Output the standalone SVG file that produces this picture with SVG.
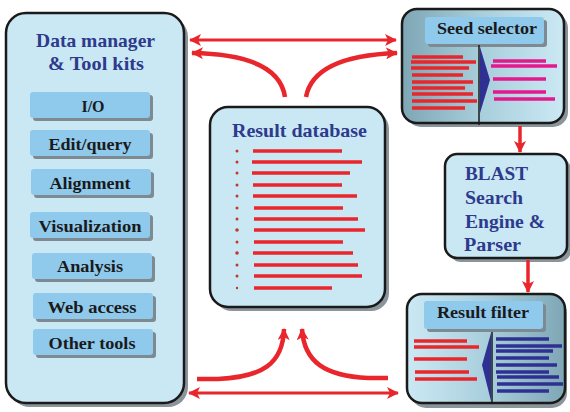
<svg xmlns="http://www.w3.org/2000/svg" width="570" height="412" viewBox="0 0 570 412">
<defs>
<marker id="ah" viewBox="0 0 12 12" refX="11" refY="6" markerWidth="12" markerHeight="12" markerUnits="userSpaceOnUse" orient="auto-start-reverse">
<path d="M0,0 L12,6 L0,12 L3,6 Z" fill="#e8262b"/>
</marker>
<linearGradient id="gSeed" x1="0" y1="0" x2="1" y2="0">
<stop offset="0" stop-color="#7ea6b4"/><stop offset="0.5" stop-color="#a9cfdc"/><stop offset="1" stop-color="#cbe9f4"/>
</linearGradient>
<linearGradient id="gFilt" x1="0" y1="0" x2="1" y2="0">
<stop offset="0" stop-color="#cbe9f4"/><stop offset="0.5" stop-color="#a9cfdc"/><stop offset="1" stop-color="#7ea6b4"/>
</linearGradient>
<style>
.panel{fill:#c9e8f4;stroke:#1a1a1a;stroke-width:2.5}
.shadow{fill:#8a949b}
.btn{fill:#8fc9ec}
.btnsh{fill:#7d8a92}
.title{font-family:"Liberation Serif",serif;font-weight:bold;font-size:19px;fill:#2e3a8c}
.lbl{font-family:"Liberation Serif",serif;font-weight:bold;font-size:16px;fill:#1a1a1a;text-anchor:middle}
.blast{font-family:"Liberation Serif",serif;font-weight:bold;font-size:18px;fill:#2e3a8c}
.red{stroke:#e8262b;stroke-width:3.5}
.mag{stroke:#e5188e;stroke-width:3.5}
.blu{stroke:#2e3192;stroke-width:3.5}
.dot{fill:#c0392b}
.conn{fill:none;stroke:#e8262b}
</style>
</defs>

<g id="data-manager">
<rect class="shadow" x="10" y="17" width="178" height="390" rx="20"/>
<rect class="panel" x="6" y="13" width="178" height="390" rx="20"/>
<text class="title" x="36" y="47" textLength="119" lengthAdjust="spacingAndGlyphs">Data manager</text>
<text class="title" x="48" y="70" textLength="96" lengthAdjust="spacingAndGlyphs">&amp; Tool kits</text>
<g id="btn-io"><rect class="btnsh" x="33" y="95" width="120" height="26" rx="3"/><rect class="btn" x="30" y="92" width="120" height="26" rx="3"/><text class="lbl" x="93" y="112">I/O</text></g>
<g id="btn-edit"><rect class="btnsh" x="33" y="133" width="120" height="26" rx="3"/><rect class="btn" x="30" y="130" width="120" height="26" rx="3"/><text class="lbl" x="90" y="150" textLength="83" lengthAdjust="spacingAndGlyphs">Edit/query</text></g>
<g id="btn-align"><rect class="btnsh" x="34" y="172" width="120" height="26" rx="3"/><rect class="btn" x="31" y="169" width="120" height="26" rx="3"/><text class="lbl" x="90" y="189" textLength="81" lengthAdjust="spacingAndGlyphs">Alignment</text></g>
<g id="btn-vis"><rect class="btnsh" x="33" y="215" width="120" height="26" rx="3"/><rect class="btn" x="30" y="212" width="120" height="26" rx="3"/><text class="lbl" x="90" y="232" textLength="103" lengthAdjust="spacingAndGlyphs">Visualization</text></g>
<g id="btn-analysis"><rect class="btnsh" x="35" y="256" width="120" height="26" rx="3"/><rect class="btn" x="32" y="253" width="120" height="26" rx="3"/><text class="lbl" x="90" y="272" textLength="66" lengthAdjust="spacingAndGlyphs">Analysis</text></g>
<g id="btn-web"><rect class="btnsh" x="36" y="296" width="120" height="26" rx="3"/><rect class="btn" x="33" y="293" width="120" height="26" rx="3"/><text class="lbl" x="92" y="313" textLength="89" lengthAdjust="spacingAndGlyphs">Web access</text></g>
<g id="btn-other"><rect class="btnsh" x="36" y="332" width="120" height="26" rx="3"/><rect class="btn" x="33" y="329" width="120" height="26" rx="3"/><text class="lbl" x="92" y="349" textLength="87" lengthAdjust="spacingAndGlyphs">Other tools</text></g>
</g>

<g id="result-database">
<rect class="shadow" x="214" y="111" width="175" height="200" rx="18"/>
<rect class="panel" x="210" y="107" width="175" height="200" rx="18"/>
<text class="title" x="232" y="137" textLength="135" lengthAdjust="spacingAndGlyphs">Result database</text>
<g class="red">
<line x1="253" y1="151" x2="342" y2="151"/>
<line x1="252" y1="162" x2="362" y2="162"/>
<line x1="252" y1="173" x2="350" y2="173"/>
<line x1="253" y1="185" x2="342" y2="185"/>
<line x1="253" y1="196" x2="357" y2="196"/>
<line x1="254" y1="208" x2="343" y2="208"/>
<line x1="254" y1="219" x2="358" y2="219"/>
<line x1="254" y1="230" x2="365" y2="230"/>
<line x1="254" y1="242" x2="343" y2="242"/>
<line x1="253" y1="253" x2="353" y2="253"/>
<line x1="254" y1="265" x2="358" y2="265"/>
<line x1="254" y1="276" x2="362" y2="276"/>
<line x1="254" y1="288" x2="332" y2="288"/>
</g>
<g class="dot">
<circle cx="237" cy="151" r="1.5"/><circle cx="237" cy="162" r="1.5"/><circle cx="237" cy="173" r="1.5"/><circle cx="237" cy="185" r="1.5"/><circle cx="237" cy="196" r="1.5"/><circle cx="237" cy="208" r="1.5"/><circle cx="237" cy="219" r="1.5"/><circle cx="237" cy="230" r="1.8"/><circle cx="237" cy="242" r="1.5"/><circle cx="237" cy="253" r="1.8"/><circle cx="237" cy="265" r="1.5"/><circle cx="237" cy="276" r="1.5"/><circle cx="237" cy="288" r="1.2"/>
</g>
</g>

<g id="seed-selector">
<rect class="shadow" x="406" y="13" width="162" height="114" rx="15"/>
<rect x="402" y="9" width="162" height="114" rx="15" fill="url(#gSeed)" stroke="#1a1a1a" stroke-width="2.5"/>
<rect class="btnsh" x="428" y="20" width="119" height="27" rx="3"/>
<rect class="btn" x="425" y="17" width="119" height="27" rx="3"/>
<text class="lbl" x="487" y="34" textLength="100" lengthAdjust="spacingAndGlyphs">Seed selector</text>
<line x1="479" y1="45" x2="479" y2="125" stroke="#1a1a1a" stroke-width="1.5"/>
<polygon points="480,47 490,80 480,113" fill="#2e3192"/>
<g class="red">
<line x1="412" y1="57" x2="463" y2="57"/>
<line x1="411" y1="62" x2="476" y2="62"/>
<line x1="411" y1="68" x2="469" y2="68"/>
<line x1="412" y1="75" x2="463" y2="75"/>
<line x1="412" y1="82" x2="473" y2="82"/>
<line x1="412" y1="88" x2="465" y2="88"/>
<line x1="412" y1="94" x2="473" y2="94"/>
<line x1="412" y1="101" x2="477" y2="101"/>
<line x1="412" y1="108" x2="465" y2="108"/>
</g>
<g class="mag">
<line x1="493" y1="61" x2="546" y2="61"/>
<line x1="491" y1="66" x2="557" y2="66"/>
<line x1="493" y1="79" x2="546" y2="79"/>
<line x1="493" y1="92" x2="546" y2="92"/>
<line x1="494" y1="99" x2="555" y2="99"/>
</g>
</g>

<g id="blast">
<rect class="shadow" x="449" y="158" width="122" height="104" rx="12"/>
<rect class="panel" x="445" y="154" width="122" height="104" rx="12"/>
<text class="blast" x="465" y="180" textLength="63" lengthAdjust="spacingAndGlyphs">BLAST</text>
<text class="blast" x="465" y="204" textLength="58" lengthAdjust="spacingAndGlyphs">Search</text>
<text class="blast" x="465" y="228" textLength="80" lengthAdjust="spacingAndGlyphs">Engine &amp;</text>
<text class="blast" x="464" y="251" textLength="57" lengthAdjust="spacingAndGlyphs">Parser</text>
</g>

<g id="result-filter">
<rect class="shadow" x="411" y="298" width="156" height="110" rx="15"/>
<rect x="407" y="294" width="158" height="109" rx="15" fill="url(#gFilt)" stroke="#1a1a1a" stroke-width="2.5"/>
<rect class="btnsh" x="427" y="304" width="119" height="28" rx="3"/>
<rect class="btn" x="424" y="301" width="119" height="28" rx="3"/>
<text class="lbl" x="483" y="318" textLength="92" lengthAdjust="spacingAndGlyphs">Result filter</text>
<line x1="492" y1="332" x2="492" y2="403" stroke="#1a1a1a" stroke-width="1.5"/>
<polygon points="491,333 482,365 491,401" fill="#2e3192"/>
<g class="red">
<line x1="414" y1="341" x2="467" y2="341"/>
<line x1="414" y1="347" x2="479" y2="347"/>
<line x1="414" y1="359" x2="467" y2="359"/>
<line x1="415" y1="372" x2="469" y2="372"/>
<line x1="415" y1="379" x2="477" y2="379"/>
</g>
<g class="blu">
<line x1="496" y1="339" x2="549" y2="339"/>
<line x1="496" y1="346" x2="562" y2="346"/>
<line x1="496" y1="351" x2="553" y2="351"/>
<line x1="496" y1="358" x2="549" y2="358"/>
<line x1="496" y1="365" x2="557" y2="365"/>
<line x1="496" y1="372" x2="549" y2="372"/>
<line x1="497" y1="377" x2="559" y2="377"/>
<line x1="497" y1="384" x2="563" y2="384"/>
<line x1="497" y1="391" x2="549" y2="391"/>
</g>
</g>

<g id="connectors">
<line class="conn" x1="190" y1="40" x2="396" y2="40" stroke-width="3" marker-start="url(#ah)" marker-end="url(#ah)"/>
<path class="conn" d="M285,97 C281,70 252,54 192,53" stroke-width="4.5" marker-end="url(#ah)"/>
<path class="conn" d="M306,97 C311,70 342,55 397,53" stroke-width="4.5" marker-end="url(#ah)"/>
<line class="conn" x1="520" y1="126" x2="520" y2="152" stroke-width="3.5" marker-end="url(#ah)"/>
<line class="conn" x1="528" y1="260" x2="528" y2="292" stroke-width="3.5" marker-end="url(#ah)"/>
<path class="conn" d="M197,379 L218,379 C262,377 283,364 284,329" stroke-width="4.5" marker-end="url(#ah)"/>
<path class="conn" d="M388,378 L368,378 C325,376 304,362 302,329" stroke-width="4.5" marker-end="url(#ah)"/>
<line class="conn" x1="189" y1="393" x2="398" y2="393" stroke-width="3" marker-start="url(#ah)" marker-end="url(#ah)"/>
</g>
</svg>
